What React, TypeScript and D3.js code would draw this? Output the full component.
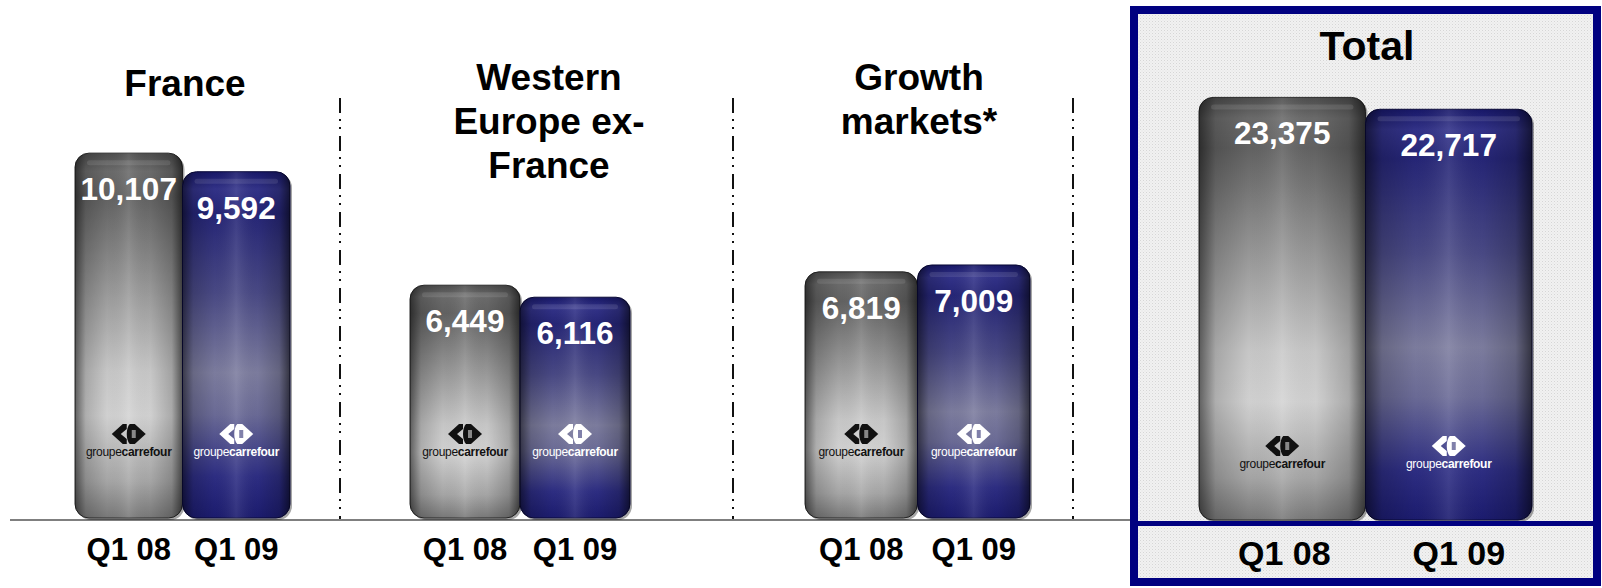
import React from "react";
import * as d3 from "d3";

// ---- data ----
const periods = ["Q1 08", "Q1 09"];
const regionTitles = [["France"], ["Western", "Europe ex-", "France"], ["Growth", "markets*"]];
const q108Values = [10107, 6449, 6819];
const q109Values = [9592, 6116, 7009];
const totalTitle = "Total";
const totalValues = [23375, 22717];

// ---- layout ----
const W = 1602;
const H = 588;
const FONT = "'Liberation Sans', Arial, Helvetica, sans-serif";
const baseY = 518;
const groupRanges: [number, number][] = [[75, 290], [410, 630], [805, 1030]];
const titleX = [185, 549, 919];
const dividerX = [340, 733, 1073];
const totalRange: [number, number] = [1199, 1532];
const totalBase = 520;

const y = d3.scaleLinear().domain([0, 10000]).range([baseY, baseY - 361]);
const yTotal = d3.scaleLinear().domain([0, 25000]).range([totalBase, totalBase - 452]);
const fmt = d3.format(",");

function Logo({ cx, cy, dark }: { cx: number; cy: number; dark: boolean }) {
  const c = dark ? "#111" : "#fff";
  return (
    <g>
      <g transform={`translate(${cx},${cy})`}>
        <path d="M-17,0 L-6,-10 L-2,-10 L-2,-5 L-8,0 L-2,5 L-2,10 L-6,10 Z" fill={c} />
        <path d="M1,-10 L6,-10 L17,0 L6,10 L1,10 C-3,6 -3,-6 1,-10 Z" fill={c} />
        <path d="M3,-4 L7,-4 L7,4 L3,4 Z" fill={dark ? "#bbb" : "#4a4a86"} opacity={0.7} />
      </g>
      <text x={cx} y={cy + 22} textAnchor="middle" fontFamily={FONT} fontSize={12} fill={c} letterSpacing={-0.3}>
        <tspan>groupe</tspan>
        <tspan fontWeight="bold">carrefour</tspan>
      </text>
    </g>
  );
}

function Bar({ x, top, w, bottom, kind }: { x: number; top: number; w: number; bottom: number; kind: "gray" | "blue" }) {
  const h = bottom - top;
  const r = 14;
  return (
    <g>
      <rect x={x + 2} y={top + 2} width={w} height={h} rx={r} fill="#000" opacity={0.35} />
      <rect x={x} y={top} width={w} height={h} rx={r} fill={`url(#v-${kind})`} stroke={kind === "gray" ? "#2a2a2a" : "#0a0a3a"} strokeWidth={1} />
      <rect x={x} y={top} width={w} height={h} rx={r} fill="url(#h-edge)" />
      <rect x={x + 12} y={top + 7} width={w - 24} height={5} rx={2.5} fill="#fff" opacity={0.1} />
    </g>
  );
}

export default function App() {
  const groups = regionTitles.map((lines, i) => {
    const xs = d3.scaleBand<string>().domain(periods).range(groupRanges[i]).padding(0);
    return { lines, xs, values: [q108Values[i], q109Values[i]] };
  });
  const xt = d3.scaleBand<string>().domain(periods).range(totalRange).padding(0);

  return (
    <svg width={W} height={H} style={{ position: "absolute", left: 0, top: 0, background: "#fff" }}>
      <defs>
        <linearGradient id="v-gray" x1="0" y1="0" x2="0" y2="1">
          <stop offset="0" stopColor="#4e4e4e" />
          <stop offset="0.05" stopColor="#6c6c6c" />
          <stop offset="0.12" stopColor="#636363" />
          <stop offset="0.35" stopColor="#959595" />
          <stop offset="0.6" stopColor="#cacaca" />
          <stop offset="0.72" stopColor="#d4d4d4" />
          <stop offset="0.9" stopColor="#a8a8a8" />
          <stop offset="1" stopColor="#7a7a7a" />
        </linearGradient>
        <linearGradient id="v-blue" x1="0" y1="0" x2="0" y2="1">
          <stop offset="0" stopColor="#18186a" />
          <stop offset="0.05" stopColor="#33338a" />
          <stop offset="0.12" stopColor="#262678" />
          <stop offset="0.35" stopColor="#4a4a86" />
          <stop offset="0.58" stopColor="#7e7ea0" />
          <stop offset="0.7" stopColor="#6c6c98" />
          <stop offset="0.88" stopColor="#2e2e84" />
          <stop offset="1" stopColor="#1c1c70" />
        </linearGradient>
        <linearGradient id="h-edge" x1="0" y1="0" x2="1" y2="0">
          <stop offset="0" stopColor="#000" stopOpacity={0.55} />
          <stop offset="0.1" stopColor="#000" stopOpacity={0.18} />
          <stop offset="0.3" stopColor="#000" stopOpacity={0.02} />
          <stop offset="0.5" stopColor="#fff" stopOpacity={0.1} />
          <stop offset="0.7" stopColor="#000" stopOpacity={0.02} />
          <stop offset="0.9" stopColor="#000" stopOpacity={0.2} />
          <stop offset="1" stopColor="#000" stopOpacity={0.6} />
        </linearGradient>
        <pattern id="dots" width="3" height="3" patternUnits="userSpaceOnUse">
          <rect width="3" height="3" fill="#f1f1f1" />
          <rect width="1" height="1" fill="#d6d6d6" />
          <rect x="1.5" y="1.5" width="1" height="1" fill="#e2e2e2" />
        </pattern>
      </defs>

      {/* baseline */}
      <line x1={10} x2={1131} y1={520} y2={520} stroke="#555" strokeWidth={1.5} />

      {/* dividers */}
      {dividerX.map((dx, i) => (
        <line key={i} x1={dx} x2={dx} y1={98} y2={519} stroke="#111" strokeWidth={2} strokeDasharray="15 6 2 6 2 7" />
      ))}

      {groups.map((g, i) => (
        <g key={i}>
          {g.lines.map((ln, k) => (
            <text key={k} x={titleX[i]} y={(g.lines.length === 1 ? 96 : 90) + k * 44} textAnchor="middle" fontFamily={FONT} fontWeight="bold" fontSize={37} fill="#000">
              {ln}
            </text>
          ))}
          {periods.map((p, j) => {
            const x0 = g.xs(p)!;
            const w = g.xs.bandwidth();
            const top = y(g.values[j]);
            return (
              <g key={p}>
                <Bar x={x0} w={w} top={top} bottom={baseY} kind={j === 0 ? "gray" : "blue"} />
                <text x={x0 + w / 2} y={top + 47} textAnchor="middle" fontFamily={FONT} fontWeight="bold" fontSize={31.5} fill="#fff">
                  {fmt(g.values[j])}
                </text>
                <Logo cx={x0 + w / 2} cy={434} dark={j === 0} />
                <text x={x0 + w / 2} y={560} textAnchor="middle" fontFamily={FONT} fontWeight="bold" fontSize={31} fill="#000">
                  {p}
                </text>
              </g>
            );
          })}
        </g>
      ))}

      {/* total box */}
      <rect x={1134} y={10} width={463} height={572} fill="url(#dots)" stroke="#000080" strokeWidth={8} />
      <text x={1367} y={60} textAnchor="middle" fontFamily={FONT} fontWeight="bold" fontSize={41} fill="#000">
        {totalTitle}
      </text>
      {periods.map((p, j) => {
        const x0 = xt(p)!;
        const w = xt.bandwidth();
        const top = yTotal(totalValues[j]);
        return (
          <g key={p}>
            <Bar x={x0} w={w} top={top} bottom={totalBase} kind={j === 0 ? "gray" : "blue"} />
            <text x={x0 + w / 2} y={top + 47} textAnchor="middle" fontFamily={FONT} fontWeight="bold" fontSize={31.5} fill="#fff">
              {fmt(totalValues[j])}
            </text>
            <Logo cx={x0 + w / 2} cy={446} dark={j === 0} />
            <text x={x0 + w / 2 + (j === 1 ? 10 : 2)} y={565} textAnchor="middle" fontFamily={FONT} fontWeight="bold" fontSize={34} fill="#000">
              {p}
            </text>
          </g>
        );
      })}
      <rect x={1138} y={521} width={455} height={5} fill="#000080" />
    </svg>
  );
}
